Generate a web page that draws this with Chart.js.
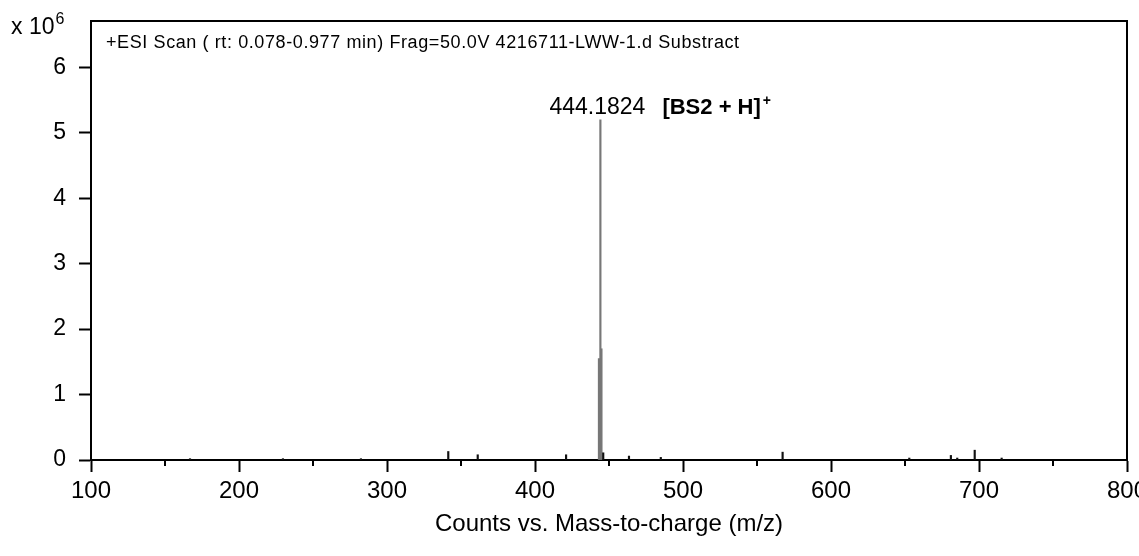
<!DOCTYPE html>
<html>
<head>
<meta charset="utf-8">
<script src="https://cdn.jsdelivr.net/npm/chart.js@4.4.1/dist/chart.umd.min.js"></script>
<style>
  html, body { margin: 0; padding: 0; background: #fff; overflow: hidden; }
  #wrap { width: 1139px; height: 556px; }
</style>
</head>
<body>
<div id="wrap"><canvas id="spectrum" width="1139" height="556"></canvas></div>
<script>
// m/z of each peak and its counts
var mzValues = [166.9, 229.7, 282.4, 341.4, 361.3, 421.0, 443.2, 444.1824, 444.9, 446.1, 463.5, 485.0, 567.3, 652.9, 681.0, 685.3, 697.1, 715.3];
var counts = [20000, 20000, 20000, 130000, 80000, 80000, 1550000, 5200000, 1700000, 110000, 60000, 40000, 120000, 30000, 70000, 30000, 150000, 30000];

var xTicks = [100, 200, 300, 400, 500, 600, 700, 800];
var xMinorTicks = [150, 250, 350, 450, 550, 650, 750];
var yTicks = [0, 1e6, 2e6, 3e6, 4e6, 5e6, 6e6];
var yTickLabels = ["0", "1", "2", "3", "4", "5", "6"];
var yScaleExp = "6";
var yMax = 6.71e6;

var scanTitle = "+ESI Scan ( rt: 0.078-0.977 min) Frag=50.0V 4216711-LWW-1.d Substract";
var peakLabel = "444.1824";
var ionLabel = "[BS2 + H]";
var ionCharge = "+";
var xTitle = "Counts vs. Mass-to-charge (m/z)";

var FONT = '"Liberation Sans", Arial, sans-serif';

var points = mzValues.map(function (m, i) { return { x: m, y: counts[i] }; });
var barColors = counts.map(function (c) { return c > 1000000 ? "#777777" : "#111111"; });

var framePlugin = {
  id: "frame",
  afterDraw: function (chart) {
    var ctx = chart.ctx, a = chart.chartArea;
    var xs = chart.scales.x, ys = chart.scales.y;
    ctx.save();
    ctx.strokeStyle = "#000";
    ctx.lineWidth = 2;
    ctx.beginPath();
    ctx.moveTo(a.left - 1, a.top);
    ctx.lineTo(a.right, a.top);
    ctx.lineTo(a.right, a.bottom);
    ctx.stroke();

    // minor x ticks
    xMinorTicks.forEach(function (v) {
      var px = xs.getPixelForValue(v);
      ctx.beginPath();
      ctx.moveTo(px, a.bottom);
      ctx.lineTo(px, a.bottom + 6);
      ctx.stroke();
    });

    ctx.fillStyle = "#000";
    ctx.textBaseline = "alphabetic";
    ctx.textAlign = "left";

    // exponent of the y axis
    ctx.font = "23px " + FONT;
    ctx.fillText("x 10", 11, 34);
    var w = ctx.measureText("x 10").width;
    ctx.font = "16px " + FONT;
    ctx.fillText(yScaleExp, 11 + w + 1, 24);

    // scan title
    ctx.font = "18px " + FONT;
    ctx.letterSpacing = "0.6px";
    ctx.fillText(scanTitle, a.left + 15, 48);
    ctx.letterSpacing = "0px";

    // base peak label
    var top = counts.indexOf(Math.max.apply(null, counts));
    var px = xs.getPixelForValue(mzValues[top]);
    var py = ys.getPixelForValue(counts[top]);
    ctx.font = "23px " + FONT;
    ctx.textAlign = "right";
    ctx.fillText(peakLabel, px + 45, py - 6);
    ctx.textAlign = "left";
    ctx.font = "bold 22px " + FONT;
    ctx.fillText(ionLabel, px + 62, py - 6);
    var iw = ctx.measureText(ionLabel).width;
    ctx.font = "bold 14px " + FONT;
    ctx.fillText(ionCharge, px + 62 + iw + 2, py - 15);
    ctx.restore();
  }
};

new Chart(document.getElementById("spectrum"), {
  type: "bar",
  data: {
    datasets: [{
      data: points,
      backgroundColor: barColors,
      borderWidth: 0,
      barThickness: 1.5
    }]
  },
  options: {
    responsive: false,
    animation: false,
    devicePixelRatio: 1,
    layout: { padding: { left: 0, right: 12, top: 21, bottom: 0 } },
    plugins: {
      legend: { display: false },
      tooltip: { enabled: false }
    },
    scales: {
      x: {
        type: "linear",
        min: 100,
        max: 800,
        offset: false,
        grid: { offset: false, drawOnChartArea: false, tickLength: 12, tickWidth: 2, tickColor: "#000" },
        border: { display: true, color: "#000", width: 2 },
        ticks: {
          autoSkip: false,
          maxRotation: 0,
          padding: 5,
          color: "#000",
          font: { family: FONT, size: 24 },
          callback: function (v) { return String(v); }
        },
        afterBuildTicks: function (s) { s.ticks = xTicks.map(function (v) { return { value: v }; }); },
        title: {
          display: true,
          text: xTitle,
          color: "#000",
          font: { family: FONT, size: 24 },
          padding: { top: 0, bottom: 17 }
        },
        afterFit: function (s) { s.height = 96; s.paddingLeft = 0; s.paddingRight = 0; }
      },
      y: {
        min: 0,
        max: yMax,
        bounds: "data",
        grid: { drawOnChartArea: false, tickLength: 12, tickWidth: 2, tickColor: "#000" },
        border: { display: true, color: "#000", width: 2 },
        ticks: {
          padding: 13,
          color: "#000",
          font: { family: FONT, size: 23 },
          callback: function (v) { return yTickLabels[yTicks.indexOf(v)]; }
        },
        afterBuildTicks: function (s) { s.ticks = yTicks.map(function (v) { return { value: v }; }); },
        afterFit: function (s) { s.width = 91; s.paddingTop = 0; s.paddingBottom = 0; }
      }
    }
  },
  plugins: [framePlugin]
});
</script>
</body>
</html>
